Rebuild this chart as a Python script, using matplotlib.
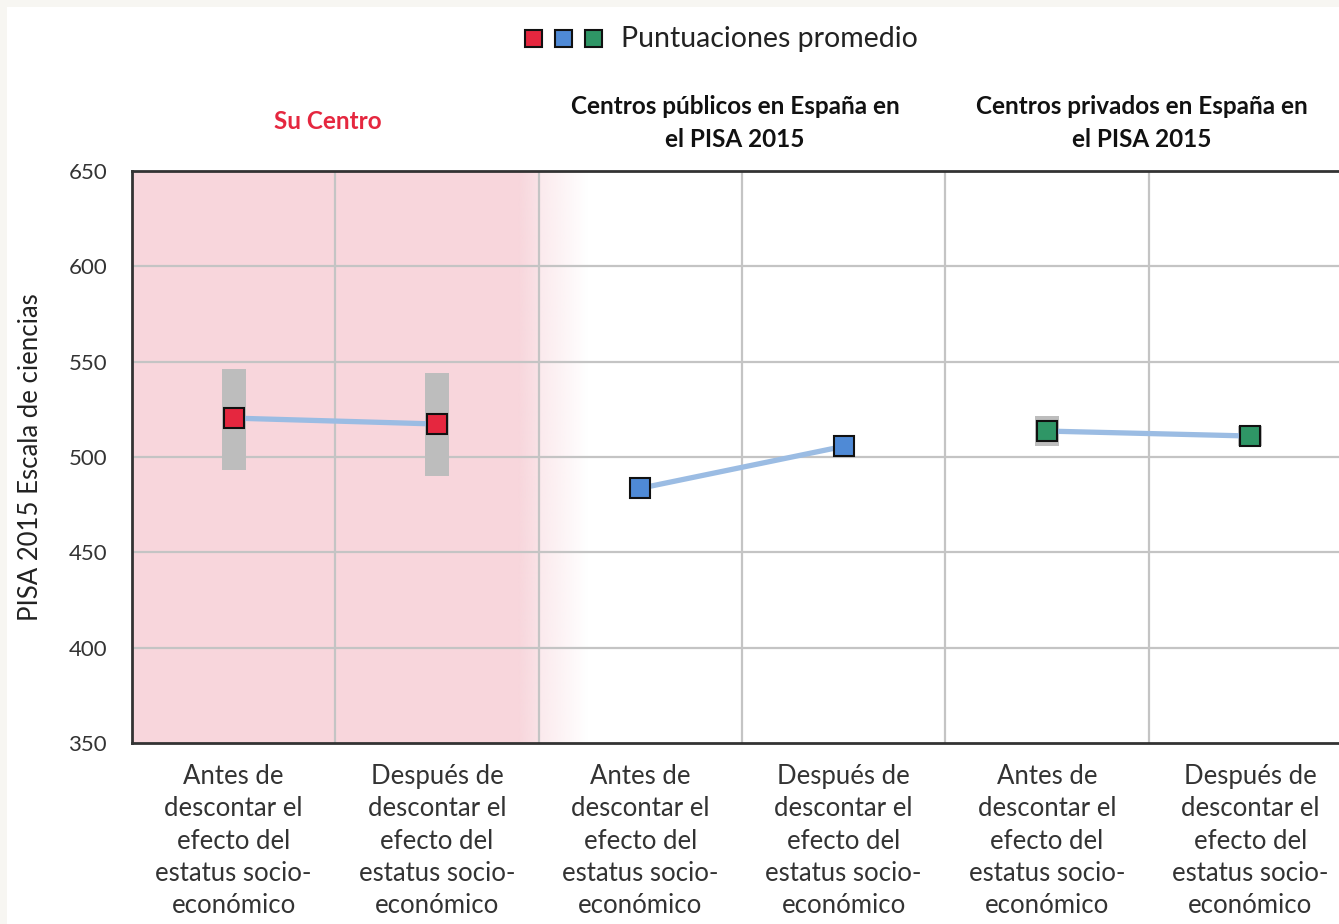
import numpy as np
import matplotlib
matplotlib.use("Agg")
import matplotlib.pyplot as plt
from matplotlib.patches import Rectangle

plt.rcParams['font.family'] = ['Lato', 'DejaVu Sans']

# ---- data ----
groups = ["Su Centro", "Centros públicos en España en\nel PISA 2015",
          "Centros privados en España en\nel PISA 2015"]
group_colors = ["#e5273f", "#4f8ad6", "#2f9666"]
title_colors = ["#e5273f", "#111111", "#111111"]
cat_labels = ["Antes de\ndescontar el\nefecto del\nestatus socio-\neconómico",
              "Después de\ndescontar el\nefecto del\nestatus socio-\neconómico"] * 3
scores = [[520.4, 517.3], [483.6, 505.6], [513.6, 511.0]]
ci_low = [[493.0, 490.0], [483.6, 505.6], [506.0, 506.0]]
ci_high = [[546.0, 544.0], [483.6, 505.6], [521.5, 516.5]]
yticks = [350, 400, 450, 500, 550, 600, 650]
ylabel = "PISA 2015 Escala de ciencias"
legend_text = "Puntuaciones promedio"

W, H = 1339, 924
fig = plt.figure(figsize=(W / 100, H / 100), dpi=100, facecolor="#f7f6f2")
# white page
fig.patches.append(Rectangle((7 / W, 0), 1, 1 - 7 / H, transform=fig.transFigure,
                             facecolor="white", edgecolor="none", zorder=-5))

left, right, top, bottom = 132, 1352, 171, 743
ax = fig.add_axes([left / W, 1 - bottom / H, (right - left) / W, (bottom - top) / H])
ax.set_zorder(2)
ax.set_xlim(0, 6)
ax.set_ylim(350, 650)
ax.set_facecolor("none")

# pink shading for "Su Centro" with fade
ax.axvspan(0, 1.9, color="#f8d6dc", lw=0, zorder=0)
grad = np.zeros((1, 200, 4))
pink = matplotlib.colors.to_rgb("#f8d6dc")
grad[..., 0], grad[..., 1], grad[..., 2] = pink
a = np.linspace(1, 0, 200)
a[a < 0.7] *= 0.75
grad[..., 3] = a
ax.imshow(grad, extent=(1.9, 2.24, 350, 650), aspect="auto", zorder=0,
          interpolation="bilinear")

# grid
for x in range(1, 6):
    ax.axvline(x, color="#c4c4c4", lw=1.6, zorder=1)
for y in yticks[1:-1]:
    ax.axhline(y, color="#c4c4c4", lw=1.6, zorder=1)

# data
for g in range(3):
    xs = [2 * g + 0.5, 2 * g + 1.5]
    for i in range(2):
        lo, hi = ci_low[g][i], ci_high[g][i]
        if hi - lo > 0.5:
            ax.bar(xs[i], hi - lo, bottom=lo, width=0.118, color="#bdbdbd",
                   zorder=2, lw=0)
    ax.plot(xs, scores[g], color="#9bbce3", lw=3.8, zorder=3, solid_capstyle="butt")
    ax.plot(xs, scores[g], ls="none", marker="s", ms=15, mfc=group_colors[g],
            mec="#111111", mew=1.5, zorder=4)
    tx = 2 * g + 1 - 0.035
    if g == 0:
        ax.text(tx, 676, groups[g], ha="center", va="center",
                fontsize=17.5, fontweight="bold", color=title_colors[g])
    else:
        ax.text(tx, 660.5, groups[g], ha="center", va="bottom",
                fontsize=17.5, fontweight="bold", color=title_colors[g],
                linespacing=1.55)

for s in ["left", "top", "bottom"]:
    ax.spines[s].set_color("#333333")
    ax.spines[s].set_linewidth(2)
ax.spines["right"].set_visible(False)

ax.set_yticks(yticks)
ax.set_yticklabels([str(v) for v in yticks], fontsize=16, color="#333333")
ax.tick_params(axis="y", length=0, pad=18)
ax.set_xticks([i + 0.5 for i in range(6)])
ax.set_xticklabels(cat_labels, fontsize=18.5, color="#333333", linespacing=1.37)
ax.tick_params(axis="x", length=0, pad=15)
for lbl in ax.get_xticklabels():
    lbl.set_va("top")
ax.set_ylabel(ylabel, fontsize=18.5, color="#222222")
ax.yaxis.set_label_coords((43 - left) / (right - left), 0.5)

# legend
for k, c in enumerate(group_colors):
    fig.patches.append(Rectangle(((525 + 30 * k) / W, 1 - 47 / H), 17 / W, 17 / H,
                                 transform=fig.transFigure, facecolor=c,
                                 edgecolor="#111111", lw=1.5, zorder=5))
fig.text(621 / W, 1 - 39 / H, legend_text, fontsize=20.5, color="#222222",
         va="center", ha="left")

fig.savefig("out.png", dpi=100, facecolor=fig.get_facecolor())
